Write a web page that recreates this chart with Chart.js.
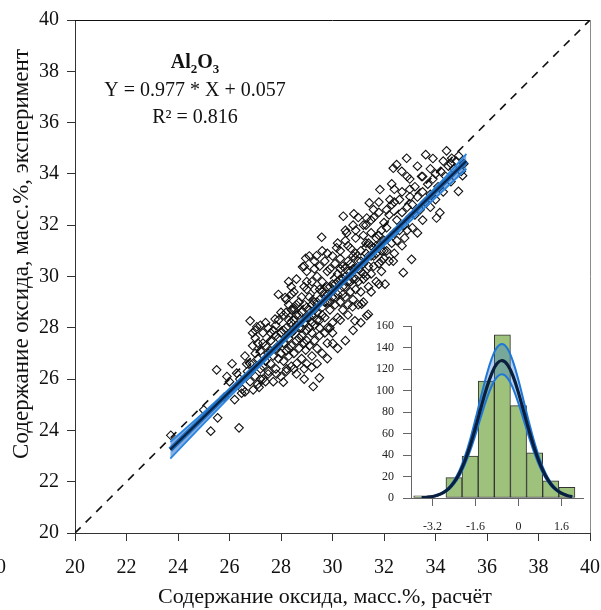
<!DOCTYPE html>
<html>
<head>
<meta charset="utf-8">
<script src="https://cdn.jsdelivr.net/npm/chart.js@4.4.1/dist/chart.umd.min.js"></script>
<style>
  html, body { margin: 0; padding: 0; background: #fff; }
  #wrap { position: relative; width: 601px; height: 610px; }
  #main { position: absolute; left: 0; top: 0; }
  #hist { position: absolute; left: 355px; top: 310px; }
</style>
</head>
<body>
<div id="wrap">
  <canvas id="main" width="601" height="610"></canvas>
  <canvas id="hist" width="235" height="228"></canvas>
</div>
<script>
// main plot: calculated vs experimental Al2O3, mass %
const xTitle = 'Содержание оксида, масс.%, расчёт';
const yTitle = 'Содержание оксида, масс.%, эксперимент';
const diagX = [20, 40];
const diagY = [20, 40];
const fitX = [23.7, 35.2];
const fitY = [23.25, 34.5];
const bandX = [23.7, 25, 27, 29.5, 32, 34, 35.2];
const bandUp = [23.55, 24.7, 26.56, 28.95, 31.44, 33.47, 34.78];
const bandLow = [22.9, 24.26, 26.32, 28.81, 31.2, 33.07, 34.2];

// [calc, exp] pairs
const scatterPts = [
  [23.72,23.81],[25.27,23.97],[25.54,24.49],[26.37,24.10],[25.50,26.36],[26.28,26.23],[26.80,28.27],[27.06,28.04],
  [27.77,28.34],[26.67,26.59],[26.47,25.45],[26.92,25.58],[27.15,25.68],[28.09,25.88],[29.19,26.46],[29.49,26.05],
  [29.25,25.71],[30.01,27.39],[28.96,27.13],[28.61,26.61],[28.22,26.40],[27.83,26.20],[27.51,26.30],[29.58,31.53],
  [28.96,30.71],[28.84,30.37],[29.38,30.81],[30.16,31.12],[28.16,29.18],[28.41,29.31],[28.48,28.79],[33.62,34.75],
  [34.43,34.90],[34.63,34.61],[34.89,33.32],[35.05,33.93],[32.88,34.61],[32.49,34.36],[32.36,34.22],[32.69,34.10],
  [33.46,33.90],[32.30,33.61],[31.84,33.39],[32.23,33.00],[31.43,32.87],[31.59,32.61],[30.83,32.44],[30.42,32.35],
  [31.33,32.28],[34.17,32.49],[34.04,32.28],[33.07,30.67],[32.75,30.15],[32.04,29.70],[31.39,28.53],[30.78,28.82],
  [31.13,28.92],[33.01,33.11],[30.55,31.70],[31.33,28.47],[30.87,28.27],[32.36,30.60],
  [25.0,24.8],[25.8,25.3],[26.0,25.9],[26.2,25.2],[26.4,26.0],[26.5,25.6],[26.1,26.6],[25.9,26.1],
  [26.6,26.9],[26.7,26.3],[26.8,25.9],[26.9,26.6],[26.9,27.3],[27.0,26.1],[27.0,27.6],[27.1,26.8],
  [27.1,25.8],[27.2,27.1],[27.2,26.4],[27.3,27.8],[27.3,26.0],[27.4,26.7],[27.4,27.3],[27.5,26.2],
  [27.5,27.0],[27.5,28.0],[27.6,26.6],[27.6,27.5],[27.7,26.9],[27.7,25.9],[27.7,27.9],[27.8,27.2],
  [27.8,26.4],[27.9,26.8],[27.9,27.6],[27.9,28.3],[28.0,26.1],[28.0,27.0],[26.6,25.5],[27.0,27.0],
  [27.3,26.5],[27.6,27.1],[27.8,27.7],[27.4,25.9],[27.1,27.4],[26.8,26.6],[27.2,26.0],[27.9,27.3],
  [28.0,27.8],[28.1,26.7],[28.1,27.4],[28.1,28.5],[28.2,27.1],[28.2,26.3],[28.2,28.0],[28.3,27.6],
  [28.3,28.9],[28.3,26.9],[28.4,27.3],[28.4,28.2],[28.4,26.5],[28.5,27.9],[28.5,27.0],[28.5,29.4],
  [28.6,27.5],[28.6,28.5],[28.6,26.2],[28.7,27.2],[28.7,28.0],[28.7,29.0],[28.8,27.7],[28.8,26.8],
  [28.8,28.6],[28.9,27.4],[28.9,28.2],[28.9,29.6],[29.0,27.9],[29.0,26.6],[29.0,28.8],[29.0,30.2],
  [29.1,27.3],[29.1,28.4],[29.1,29.2],[29.2,27.8],[29.2,28.9],[29.2,26.9],[29.3,28.1],[29.3,29.5],
  [29.3,27.5],[29.4,28.6],[29.4,30.0],[29.4,27.2],[29.5,28.3],[29.5,29.1],[29.5,27.7],[29.6,28.8],
  [29.6,29.8],[29.6,27.0],[29.7,28.4],[29.7,29.3],[29.7,30.6],[29.8,28.0],[29.8,29.0],[29.8,27.4],
  [29.9,28.7],[29.9,29.6],[29.9,30.3],[30.0,28.2],[30.0,29.2],[30.0,27.8],[28.2,29.1],[28.4,29.6],
  [28.6,29.9],[28.9,30.4],[29.1,30.8],[29.3,30.3],[29.6,31.0],[29.8,30.9],[28.3,27.2],[28.5,28.3],
  [28.7,27.6],[28.9,26.4],[29.1,28.0],[29.3,28.7],[29.5,28.0],[29.7,27.8],[29.9,28.0],[28.8,29.2],
  [29.0,29.5],[29.2,29.8],[29.4,29.0],[29.6,29.4],[29.8,29.6],[28.6,28.9],[28.4,28.7],[29.0,28.4],
  [29.2,28.5],[29.4,28.3],
  [30.1,28.9],[30.1,29.7],[30.1,30.5],[30.2,29.3],[30.2,28.4],[30.2,30.1],[30.3,29.0],[30.3,29.9],
  [30.3,31.0],[30.4,29.6],[30.4,28.7],[30.4,30.4],[30.5,29.2],[30.5,30.0],[30.5,31.4],[30.6,29.8],
  [30.6,28.9],[30.6,30.6],[30.7,29.4],[30.7,30.2],[30.7,31.1],[30.8,29.9],[30.8,29.1],[30.8,30.8],
  [30.9,30.3],[30.9,29.5],[30.9,31.5],[31.0,29.8],[31.0,30.6],[31.0,28.9],[31.1,30.2],[31.1,31.0],
  [31.1,29.4],[31.2,30.5],[31.2,31.6],[31.2,29.9],[31.3,30.9],[31.3,30.0],[31.3,32.0],[31.4,30.4],
  [31.4,31.3],[31.4,29.6],[31.5,30.8],[31.5,31.7],[31.5,30.1],[31.6,31.1],[31.6,30.4],[31.6,32.3],
  [31.7,30.9],[31.7,31.5],[31.7,29.8],[31.8,31.2],[31.8,30.5],[31.8,32.5],[31.9,31.0],[31.9,31.8],
  [31.9,30.2],[32.0,31.4],[32.0,30.7],[32.0,32.1],[30.2,31.3],[30.5,31.8],[30.8,32.0],[31.0,32.3],
  [30.3,28.3],[30.6,28.5],[31.2,29.0],[31.5,29.4],[31.8,29.7],[30.9,30.9],[30.4,29.9],[30.7,30.5],
  [32.1,31.0],[32.1,31.9],[32.2,30.6],[32.2,32.4],[32.3,31.3],[32.3,32.8],[32.4,31.7],[32.4,30.9],
  [32.5,32.2],[32.5,31.4],[32.6,31.8],[32.6,33.0],[32.7,31.2],[32.7,32.5],[32.8,32.0],[32.8,31.5],
  [32.9,32.7],[32.9,31.8],[33.0,32.3],[33.0,33.4],[33.1,31.9],[33.1,32.8],[33.2,32.4],[33.3,33.1],
  [33.3,31.7],[33.4,32.6],[33.5,33.3],[33.5,32.2],[33.6,32.9],[33.7,33.6],[33.8,32.7],[33.8,33.2],
  [33.9,33.8],[34.0,33.0],[34.1,33.5],[34.2,34.1],[34.3,33.3],[34.4,33.9],[34.5,34.3],[34.6,33.7],
  [34.7,34.2],[34.8,34.5],[35.0,34.1],[35.1,34.4],[32.4,33.4],[32.9,33.9],[33.3,34.3],[33.9,34.6],
  [27.0,27.9],[27.2,28.1],[27.4,28.2],[26.9,27.8],[27.3,27.4],[27.6,27.8],[27.8,28.1],[28.0,28.6],
  [28.1,27.9],[28.2,28.6],[28.3,28.3],[28.4,27.8],[28.5,28.7],[28.6,28.1],[28.7,28.5],[28.8,28.0],
  [28.9,28.9],[29.0,27.5],[29.1,28.7],[29.2,28.2],[29.3,29.0],[29.4,28.9],[29.5,29.5],[29.6,28.5],
  [29.7,29.0],[29.8,29.3],[29.9,29.0],[30.0,29.7],[30.1,29.2],[30.2,29.8],[30.3,30.3],[30.4,29.3],
  [30.5,29.6],[30.6,30.2],[30.7,29.8],[30.8,30.3],[30.9,29.9],[31.0,30.3],[31.1,30.6],[31.2,30.1],
  [31.3,31.3],[31.4,30.8],[31.5,31.2],[31.6,30.8],[31.7,31.2],[31.8,31.6],[31.9,30.6],[32.0,31.0],
  [29.0,29.8],[29.3,30.6],[29.5,30.4],[29.8,30.2],[30.0,30.8],[30.3,30.7],[30.6,31.2],[30.9,31.8],
  [31.2,32.0],[31.5,32.2],[31.8,32.9],[32.1,32.6],[32.4,32.9],[32.7,33.3],[33.0,33.8],[33.2,33.5],
  [33.5,33.9],[33.8,34.2],[34.0,34.0],[34.3,34.5],[34.6,34.4],[34.9,34.7],[28.5,26.4],[28.9,26.0],
  [29.4,26.6],[29.8,26.8],[30.2,27.2],[30.5,27.5],[30.8,27.9],[31.1,28.2],[27.9,29.3],[28.3,29.8]
];

// inset: residual histogram with normal fit
const binCenters = [-3.6, -3.0, -2.4, -1.8, -1.2, -0.6, 0, 0.6, 1.2, 1.8];
const binCounts = [2, 0, 19, 39, 109, 152, 86, 42, 16, 10];
const curveX = [-3.6,-3.4,-3.2,-3.0,-2.8,-2.6,-2.4,-2.2,-2.0,-1.8,-1.6,-1.4,-1.2,-1.0,-0.8,-0.6,-0.4,-0.2,0,0.2,0.4,0.6,0.8,1.0,1.2,1.4,1.6,1.8,2.0];
const curveMid = [0.3,0.7,1.4,2.7,5.0,8.7,14.5,22.8,34.2,48.7,65.6,83.8,101.2,115.7,125.2,128,123.8,113.2,97.9,80.1,62.1,45.6,31.7,20.9,13.1,7.8,4.4,2.4,1.2];
const curveUp = [0.3,0.8,1.6,3.0,5.6,9.7,16.2,25.5,38.3,54.5,73.5,93.9,113.3,129.6,140.2,143.4,138.7,126.8,109.6,89.7,69.6,51.1,35.5,23.4,14.7,8.7,4.9,2.7,1.3];
const curveLow = [0.3,0.6,1.3,2.4,4.5,7.8,13.1,20.5,30.8,43.8,59.0,75.4,91.1,104.1,112.7,115.2,111.4,101.9,88.1,72.1,55.9,41.0,28.5,18.8,11.8,7.0,4.0,2.2,1.1];
const histTicksX = [-3.2, -1.6, 0, 1.6];

const serif = '"Liberation Serif", "Times New Roman", serif';
const xy = (xs, ys) => xs.map((v, i) => ({x: v, y: ys[i]}));

const mainDecor = {
  id: 'mainDecor',
  afterDraw(chart) {
    const {ctx, chartArea: a} = chart;
    ctx.save();
    ctx.lineWidth = 1;
    ctx.strokeStyle = '#111';
    ctx.beginPath(); ctx.moveTo(a.left, a.top + 0.5); ctx.lineTo(a.right, a.top + 0.5); ctx.stroke();
    ctx.strokeStyle = '#8a8a8a';
    ctx.beginPath(); ctx.moveTo(a.right + 0.5, a.top); ctx.lineTo(a.right + 0.5, a.bottom); ctx.stroke();

    ctx.fillStyle = '#111';
    ctx.textBaseline = 'alphabetic';
    // Al2O3 with subscripts
    const cx = 195;
    const big = 'bold 20px ' + serif, small = 'bold 13px ' + serif;
    const parts = [['Al', big, 0], ['2', small, 5], ['O', big, 0], ['3', small, 5]];
    let w = 0;
    parts.forEach(p => { ctx.font = p[1]; w += ctx.measureText(p[0]).width; });
    let px = cx - w / 2;
    parts.forEach(p => { ctx.font = p[1]; ctx.textAlign = 'left'; ctx.fillText(p[0], px, 68 + p[2]); px += ctx.measureText(p[0]).width; });

    ctx.font = '20px ' + serif;
    ctx.textAlign = 'center';
    ctx.fillText('Y = 0.977 * X + 0.057', cx, 96);
    ctx.fillText('R² = 0.816', cx, 123);

    // axis titles, placed as in the source figure
    ctx.font = '22px ' + serif;
    ctx.textBaseline = 'middle';
    ctx.fillText(xTitle, 325, 597);
    ctx.save();
    ctx.translate(22, 254);
    ctx.rotate(-Math.PI / 2);
    ctx.font = '23px ' + serif;
    ctx.fillText(yTitle, 0, 0);
    ctx.restore();

    // clipped label from the neighbouring panel
    ctx.textAlign = 'right';
    ctx.textBaseline = 'alphabetic';
    ctx.font = '20px ' + serif;
    ctx.fillText('40', 6, 573);
    ctx.restore();
  }
};

new Chart(document.getElementById('main'), {
  type: 'scatter',
  data: {
    datasets: [
      {type: 'line', data: xy(fitX, fitY), borderColor: '#0b2342', borderWidth: 2.2, pointRadius: 0, order: 1},
      {type: 'line', data: xy(fitX, fitY), borderColor: '#1f6fc4', borderWidth: 5, pointRadius: 0, order: 2},
      {type: 'line', data: xy(bandX, bandUp), borderColor: '#2a86e0', borderWidth: 1.8, pointRadius: 0, tension: 0.3, order: 3},
      {type: 'line', data: xy(bandX, bandLow), borderColor: '#2a86e0', borderWidth: 1.8, pointRadius: 0, tension: 0.3,
        fill: 2, backgroundColor: 'rgba(40,110,200,0.55)', order: 4},
      {type: 'line', data: xy(diagX, diagY), borderColor: '#111', borderWidth: 1.6, borderDash: [8, 7], pointRadius: 0, order: 6},
      {data: scatterPts.map(p => ({x: p[0], y: p[1]})), pointStyle: 'rectRot', pointRadius: 4.3,
        borderColor: '#111', borderWidth: 1.1, backgroundColor: 'rgba(0,0,0,0)', order: 5}
    ]
  },
  options: {
    responsive: false,
    animation: false,
    events: [],
    layout: {padding: {top: 18, right: 11, left: 0, bottom: 0}},
    plugins: {legend: {display: false}, tooltip: {enabled: false}},
    scales: {
      x: {
        type: 'linear', min: 20, max: 40,
        ticks: {stepSize: 2, font: {family: serif, size: 20}, color: '#111', padding: 15},
        grid: {drawOnChartArea: false, drawTicks: true, tickLength: 8, color: '#333'},
        border: {color: '#333'},
        afterFit(s) { s.height = 77; s.paddingLeft = 0; s.paddingRight = 10; }
      },
      y: {
        type: 'linear', min: 20, max: 40,
        ticks: {stepSize: 2, font: {family: serif, size: 20}, color: '#111', padding: 8},
        grid: {drawOnChartArea: false, drawTicks: true, tickLength: 8, color: '#333'},
        border: {color: '#333'},
        afterFit(s) { s.width = 75; }
      }
    }
  },
  plugins: [mainDecor]
});

new Chart(document.getElementById('hist'), {
  type: 'bar',
  data: {
    datasets: [
      {type: 'line', data: xy(curveX, curveMid), borderColor: '#0a1f3d', borderWidth: 3.2, pointRadius: 0, tension: 0.4, order: 1},
      {type: 'line', data: xy(curveX, curveUp), borderColor: '#1f78d8', borderWidth: 2, pointRadius: 0, tension: 0.4, order: 2},
      {type: 'line', data: xy(curveX, curveLow), borderColor: '#1f78d8', borderWidth: 2, pointRadius: 0, tension: 0.4,
        fill: 1, backgroundColor: 'rgba(50,120,210,0.35)', order: 3},
      {type: 'bar', data: xy(binCenters, binCounts), backgroundColor: '#9ec27c', borderColor: '#333', borderWidth: 1,
        borderSkipped: false, barPercentage: 1, categoryPercentage: 1, order: 10}
    ]
  },
  options: {
    responsive: false,
    animation: false,
    events: [],
    layout: {padding: {top: 16, right: 7, left: 0, bottom: 0}},
    plugins: {legend: {display: false}, tooltip: {enabled: false}},
    scales: {
      x: {
        type: 'linear', min: -4, max: 2.4, offset: false,
        afterBuildTicks(s) { s.ticks = histTicksX.map(v => ({value: v})); },
        ticks: {font: {family: serif, size: 12}, color: '#222', padding: 14, callback: v => String(v)},
        grid: {drawOnChartArea: false, drawTicks: true, tickLength: 8, color: '#666', offset: false},
        border: {color: '#666'},
        afterFit(s) { s.height = 40; s.paddingLeft = 0; s.paddingRight = 7; }
      },
      y: {
        type: 'linear', min: 0, max: 160,
        ticks: {stepSize: 20, font: {family: serif, size: 12}, color: '#222', padding: 9},
        grid: {drawOnChartArea: false, drawTicks: true, tickLength: 8, color: '#666'},
        border: {color: '#666'},
        afterFit(s) { s.width = 56; }
      }
    }
  }
});
</script>
</body>
</html>
